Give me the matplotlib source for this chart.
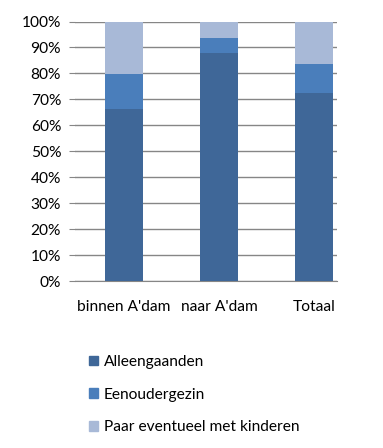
# -*- coding: utf-8 -*-
# 100% stacked bars: huishoudtype per verhuisrichting
import matplotlib
matplotlib.use('Agg')
import matplotlib.pyplot as plt
from matplotlib.patches import Patch

categories = ["binnen A'dam", "naar A'dam", "Totaal"]
alleengaanden = [66.4, 87.8, 72.4]
eenoudergezin = [13.5, 6.0, 11.3]
paar = [20.1, 6.2, 16.3]
series_names = ['Alleengaanden', 'Eenoudergezin', 'Paar eventueel met kinderen']
colors = ['#3F6798', '#4A7EBB', '#A8B9D7']

plt.rcParams['font.family'] = ['Lato', 'DejaVu Sans']

fig = plt.figure(figsize=(3.83, 4.48), dpi=100)
ax = fig.add_axes([75 / 383, 1 - 281 / 448, (337 - 75) / 383, (281 - 21.5) / 448])

x = range(len(categories))
bottom = [0, 0, 0]
for vals, col in zip([alleengaanden, eenoudergezin, paar], colors):
    ax.bar(x, vals, width=0.4, bottom=bottom, color=col, zorder=3)
    bottom = [b + v for b, v in zip(bottom, vals)]

ax.set_ylim(0, 100)
ax.set_xlim(-0.516, 2.242)
ax.set_yticks(range(0, 101, 10))
ax.set_yticklabels(['%d%%' % v for v in range(0, 101, 10)], fontsize=11.2)
ax.set_xticks(list(x))
ax.set_xticklabels(categories, fontsize=11.2)
ax.yaxis.grid(True, color='#868686', linewidth=1, zorder=0)
for s in ['top', 'right', 'left']:
    ax.spines[s].set_visible(False)
ax.spines['bottom'].set_color('#868686')
ax.tick_params(axis='y', length=4, color='#868686', pad=6)
ax.tick_params(axis='x', length=0, pad=14)

handles = [Patch(color=c, label=n) for c, n in zip(colors, series_names)]
fig.legend(handles=handles, loc='upper left', bbox_to_anchor=(75 / 383, 1 - 341 / 448),
           frameon=False, fontsize=11.2, handlelength=0.55, handleheight=0.55,
           handletextpad=0.4, labelspacing=1.2)

fig.savefig('out.png', dpi=100)
